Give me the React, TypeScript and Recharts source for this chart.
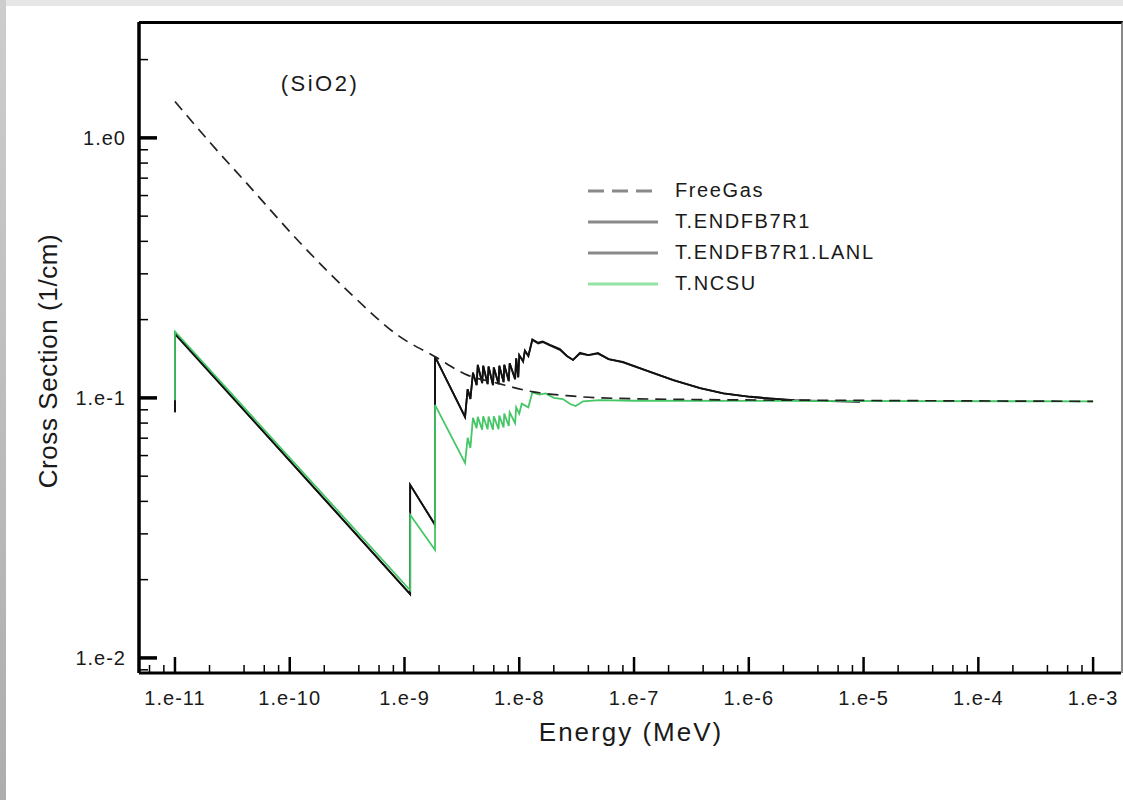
import React from 'react';
import { LineChart, Line, XAxis, YAxis } from 'recharts';

const FONT = '"Liberation Sans", Arial, Helvetica, sans-serif';

// energy (MeV) / cross section (1/cm)
const FREEGAS = [
  { e: 1e-11, v: 1.38 },
  { e: 2e-11, v: 0.965 },
  { e: 4.5e-11, v: 0.648 },
  { e: 1.23e-10, v: 0.395 },
  { e: 3.35e-10, v: 0.253 },
  { e: 9.1e-10, v: 0.172 },
  { e: 1.85e-9, v: 0.144 },
  { e: 3.5e-9, v: 0.1226 },
  { e: 6.4e-9, v: 0.114 },
  { e: 1.32e-8, v: 0.1055 },
  { e: 2.6e-8, v: 0.102 },
  { e: 5.1e-8, v: 0.1 },
  { e: 3.8e-7, v: 0.0985 },
  { e: 3e-6, v: 0.098 },
  { e: 1e-3, v: 0.097 },
];

const ENDF = [
  { e: 1e-11, v: 0.088 },
  { e: 1e-11, v: 0.177 },
  { e: 1.12e-9, v: 0.0176 },
  { e: 1.12e-9, v: 0.0463 },
  { e: 1.845e-9, v: 0.0325 },
  { e: 1.845e-9, v: 0.144 },
  { e: 3.37e-9, v: 0.0845 },
  { e: 3.55e-9, v: 0.108 },
  { e: 3.75e-9, v: 0.099 },
  { e: 3.95e-9, v: 0.125 },
  { e: 4.25e-9, v: 0.112 },
  { e: 4.35e-9, v: 0.134 },
  { e: 4.75e-9, v: 0.114 },
  { e: 4.85e-9, v: 0.133 },
  { e: 5.3e-9, v: 0.113 },
  { e: 5.4e-9, v: 0.132 },
  { e: 5.9e-9, v: 0.112 },
  { e: 6.0e-9, v: 0.131 },
  { e: 6.6e-9, v: 0.113 },
  { e: 6.7e-9, v: 0.133 },
  { e: 7.3e-9, v: 0.115 },
  { e: 7.4e-9, v: 0.134 },
  { e: 8.1e-9, v: 0.116 },
  { e: 8.25e-9, v: 0.136 },
  { e: 9.2e-9, v: 0.118 },
  { e: 9.4e-9, v: 0.142 },
  { e: 9.8e-9, v: 0.12 },
  { e: 1.0e-8, v: 0.146 },
  { e: 1.08e-8, v: 0.138 },
  { e: 1.12e-8, v: 0.152 },
  { e: 1.2e-8, v: 0.145 },
  { e: 1.3e-8, v: 0.168 },
  { e: 1.46e-8, v: 0.163 },
  { e: 1.6e-8, v: 0.165 },
  { e: 1.85e-8, v: 0.16 },
  { e: 2.26e-8, v: 0.154 },
  { e: 2.6e-8, v: 0.145 },
  { e: 2.94e-8, v: 0.14 },
  { e: 3.38e-8, v: 0.149 },
  { e: 4.0e-8, v: 0.146 },
  { e: 4.85e-8, v: 0.149 },
  { e: 6.0e-8, v: 0.141 },
  { e: 8.0e-8, v: 0.1375 },
  { e: 1.38e-7, v: 0.126 },
  { e: 2.2e-7, v: 0.117 },
  { e: 3.76e-7, v: 0.109 },
  { e: 6e-7, v: 0.104 },
  { e: 1.03e-6, v: 0.101 },
  { e: 1.5e-6, v: 0.0995 },
  { e: 2.3e-6, v: 0.098 },
  { e: 9.3e-6, v: 0.0966 },
];

const ENDF_LANL = [
  { e: 1e-11, v: 0.088 },
  { e: 1e-11, v: 0.176 },
  { e: 1.12e-9, v: 0.0176 },
  { e: 1.12e-9, v: 0.0463 },
  { e: 1.845e-9, v: 0.0325 },
  { e: 1.845e-9, v: 0.144 },
  { e: 3.37e-9, v: 0.0845 },
  { e: 3.55e-9, v: 0.108 },
  { e: 3.75e-9, v: 0.099 },
  { e: 3.95e-9, v: 0.125 },
  { e: 4.25e-9, v: 0.112 },
  { e: 4.35e-9, v: 0.134 },
  { e: 4.75e-9, v: 0.114 },
  { e: 4.85e-9, v: 0.133 },
  { e: 5.3e-9, v: 0.113 },
  { e: 5.4e-9, v: 0.132 },
  { e: 5.9e-9, v: 0.112 },
  { e: 6.0e-9, v: 0.131 },
  { e: 6.6e-9, v: 0.113 },
  { e: 6.7e-9, v: 0.133 },
  { e: 7.3e-9, v: 0.115 },
  { e: 7.4e-9, v: 0.134 },
  { e: 8.1e-9, v: 0.116 },
  { e: 8.25e-9, v: 0.136 },
  { e: 9.2e-9, v: 0.118 },
  { e: 9.4e-9, v: 0.142 },
  { e: 9.8e-9, v: 0.12 },
  { e: 1.0e-8, v: 0.146 },
  { e: 1.08e-8, v: 0.138 },
  { e: 1.12e-8, v: 0.152 },
  { e: 1.2e-8, v: 0.145 },
  { e: 1.3e-8, v: 0.167 },
  { e: 1.46e-8, v: 0.162 },
  { e: 1.6e-8, v: 0.164 },
  { e: 1.85e-8, v: 0.159 },
  { e: 2.26e-8, v: 0.153 },
  { e: 2.6e-8, v: 0.145 },
  { e: 2.94e-8, v: 0.14 },
  { e: 3.38e-8, v: 0.148 },
  { e: 4.0e-8, v: 0.146 },
  { e: 4.85e-8, v: 0.148 },
  { e: 6.0e-8, v: 0.141 },
  { e: 8.0e-8, v: 0.137 },
  { e: 1.38e-7, v: 0.126 },
  { e: 2.2e-7, v: 0.117 },
  { e: 3.76e-7, v: 0.109 },
  { e: 6e-7, v: 0.104 },
  { e: 1.03e-6, v: 0.101 },
  { e: 1.5e-6, v: 0.0995 },
  { e: 2.5e-6, v: 0.098 },
];

const NCSU = [
  { e: 1e-11, v: 0.098 },
  { e: 1e-11, v: 0.18 },
  { e: 1.12e-9, v: 0.0182 },
  { e: 1.12e-9, v: 0.0355 },
  { e: 1.845e-9, v: 0.026 },
  { e: 1.845e-9, v: 0.094 },
  { e: 3.37e-9, v: 0.0562 },
  { e: 3.55e-9, v: 0.0702 },
  { e: 3.75e-9, v: 0.0642 },
  { e: 3.95e-9, v: 0.0838 },
  { e: 4.25e-9, v: 0.0765 },
  { e: 4.35e-9, v: 0.0845 },
  { e: 4.75e-9, v: 0.0755 },
  { e: 4.85e-9, v: 0.085 },
  { e: 5.3e-9, v: 0.0757 },
  { e: 5.4e-9, v: 0.0848 },
  { e: 5.9e-9, v: 0.0755 },
  { e: 6.0e-9, v: 0.085 },
  { e: 6.6e-9, v: 0.0758 },
  { e: 6.7e-9, v: 0.0855 },
  { e: 7.3e-9, v: 0.077 },
  { e: 7.4e-9, v: 0.087 },
  { e: 8.1e-9, v: 0.078 },
  { e: 8.25e-9, v: 0.088 },
  { e: 9.2e-9, v: 0.08 },
  { e: 9.4e-9, v: 0.092 },
  { e: 1.0e-8, v: 0.087 },
  { e: 1.05e-8, v: 0.095 },
  { e: 1.2e-8, v: 0.092 },
  { e: 1.3e-8, v: 0.105 },
  { e: 1.5e-8, v: 0.103 },
  { e: 1.7e-8, v: 0.104 },
  { e: 2.0e-8, v: 0.1 },
  { e: 2.4e-8, v: 0.099 },
  { e: 2.8e-8, v: 0.0945 },
  { e: 3.1e-8, v: 0.093 },
  { e: 3.6e-8, v: 0.097 },
  { e: 5e-8, v: 0.098 },
  { e: 1e-7, v: 0.0975 },
  { e: 1e-3, v: 0.097 },
];

const X_MAJOR = [1e-11, 1e-10, 1e-9, 1e-8, 1e-7, 1e-6, 1e-5, 1e-4, 1e-3];
const X_LABELS = ['1.e-11', '1.e-10', '1.e-9', '1.e-8', '1.e-7', '1.e-6', '1.e-5', '1.e-4', '1.e-3'];
const X_MINOR_STEPS = [2, 4, 6, 8];
const Y_MAJOR = [1e-2, 1e-1, 1];
const Y_LABELS = ['1.e-2', '1.e-1', '1.e0'];
const Y_MINOR_STEPS = [2, 3, 4, 5, 6, 7, 8, 9];

const X_DOMAIN = [4.86e-12, 1.75e-3];
const Y_DOMAIN = [0.00875, 2.79];

const inRange = (v: number, d: number[]) => v >= d[0] && v <= d[1];

const xTicks = [1e-12, ...X_MAJOR]
  .flatMap((m) => [m, ...X_MINOR_STEPS.map((s) => m * s)])
  .filter((v) => inRange(v, X_DOMAIN));
const yTicks = [1e-3, ...Y_MAJOR]
  .flatMap((m) => [m, ...Y_MINOR_STEPS.map((s) => m * s)])
  .filter((v) => inRange(v, Y_DOMAIN));

const labelFor = (v: number, majors: number[], labels: string[]) => {
  const i = majors.findIndex((m) => Math.abs(Math.log10(v) - Math.log10(m)) < 1e-6);
  return i >= 0 ? labels[i] : null;
};

const XTick = (props: any) => {
  const { x, y, payload } = props;
  const label = labelFor(payload.value, X_MAJOR, X_LABELS);
  return (
    <g>
      <line x1={x} x2={x} y1={y} y2={y - (label ? 16 : 8)} stroke="#000" strokeWidth={label ? 2.5 : 1.5} />
      {label && (
        <text x={x} y={y + 32} textAnchor="middle" fontFamily={FONT} fontSize={20} letterSpacing={1} fill="#1a1a1a">
          {label}
        </text>
      )}
    </g>
  );
};

const YTick = (props: any) => {
  const { x, y, payload } = props;
  const label = labelFor(payload.value, Y_MAJOR, Y_LABELS);
  return (
    <g>
      <line x1={x} x2={x + (label ? 18 : 9)} y1={y} y2={y} stroke="#000" strokeWidth={label ? 3.5 : 1.5} />
      {label && (
        <text x={x - 13} y={y + 7} textAnchor="end" fontFamily={FONT} fontSize={20} letterSpacing={1} fill="#1a1a1a">
          {label}
        </text>
      )}
    </g>
  );
};

const LEGEND_ITEMS = [
  { name: 'FreeGas', color: '#8a8a8a', dash: '16 8' },
  { name: 'T.ENDFB7R1', color: '#8a8a8a', dash: undefined },
  { name: 'T.ENDFB7R1.LANL', color: '#8a8a8a', dash: undefined },
  { name: 'T.NCSU', color: '#93e4a5', dash: undefined },
];

const ChartLegend = () => (
  <div
    style={{
      position: 'absolute',
      left: 588,
      top: 175,
      fontFamily: FONT,
      fontSize: 20,
      letterSpacing: 1.6,
      color: '#1a1a1a',
    }}
  >
    {LEGEND_ITEMS.map((it) => (
      <div key={it.name} style={{ display: 'flex', alignItems: 'center', height: 31 }}>
        <svg width={70} height={6}>
          <line x1={0} y1={3} x2={70} y2={3} stroke={it.color} strokeWidth={3} strokeDasharray={it.dash} />
        </svg>
        <span style={{ marginLeft: 17 }}>{it.name}</span>
      </div>
    ))}
  </div>
);

export default function App() {
  return (
    <div style={{ position: 'absolute', left: 0, top: 0, width: 1123, height: 800, background: '#e6e6e6', overflow: 'hidden' }}>
      <div style={{ position: 'absolute', left: 0, top: 0, width: 6, height: 800, background: 'linear-gradient(#cdcdcd, #adadad)' }} />
      <div style={{ position: 'absolute', left: 6, top: 6, width: 1117, height: 794, background: '#fff' }} />
      <div style={{ position: 'absolute', left: 0, top: 0 }}>
        <LineChart width={1123} height={800} margin={{ top: 22, right: 2, bottom: 0, left: 0 }}>
          <XAxis
            type="number"
            dataKey="e"
            scale="log"
            domain={X_DOMAIN}
            allowDataOverflow
            ticks={xTicks}
            interval={0}
            tick={(p: any) => <XTick {...p} />}
            tickSize={0}
            tickMargin={0}
            tickLine={false}
            height={127}
            axisLine={{ stroke: '#000', strokeWidth: 3 }}
          />
          <YAxis
            type="number"
            dataKey="v"
            scale="log"
            domain={Y_DOMAIN}
            allowDataOverflow
            ticks={yTicks}
            interval={0}
            tick={(p: any) => <YTick {...p} />}
            tickSize={0}
            tickMargin={0}
            tickLine={false}
            width={139}
            axisLine={{ stroke: '#000', strokeWidth: 3.5 }}
          />
          <Line data={ENDF_LANL} dataKey="v" name="T.ENDFB7R1.LANL" type="linear" stroke="#222" strokeWidth={1.8} dot={false} isAnimationActive={false} />
          <Line data={ENDF} dataKey="v" name="T.ENDFB7R1" type="linear" stroke="#111" strokeWidth={1.8} dot={false} isAnimationActive={false} />
          <Line data={NCSU} dataKey="v" name="T.NCSU" type="linear" stroke="#45c766" strokeWidth={1.8} dot={false} isAnimationActive={false} />
          <Line data={FREEGAS} dataKey="v" name="FreeGas" type="monotone" stroke="#222" strokeWidth={1.7} strokeDasharray="11 7" dot={false} isAnimationActive={false} />
        </LineChart>
      </div>
      <ChartLegend />
      <div
        style={{
          position: 'absolute',
          left: 139,
          top: 21,
          width: 984,
          height: 652,
          boxSizing: 'border-box',
          borderTop: '3px solid #000',
          borderRight: '2px solid #8a8a8a',
          pointerEvents: 'none',
        }}
      />
      <svg width={1123} height={800} style={{ position: 'absolute', left: 0, top: 0, pointerEvents: 'none' }}>
        <text x={320} y={91} textAnchor="middle" fontFamily={FONT} fontSize={22} letterSpacing={2.5} fill="#1a1a1a">
          (SiO2)
        </text>
        <text x={631} y={741} textAnchor="middle" fontFamily={FONT} fontSize={26} letterSpacing={2} fill="#1a1a1a">
          Energy (MeV)
        </text>
        <text
          transform="translate(57, 361) rotate(-90)"
          textAnchor="middle"
          fontFamily={FONT}
          fontSize={26}
          letterSpacing={0.6}
          fill="#1a1a1a"
        >
          Cross Section (1/cm)
        </text>
      </svg>
    </div>
  );
}
